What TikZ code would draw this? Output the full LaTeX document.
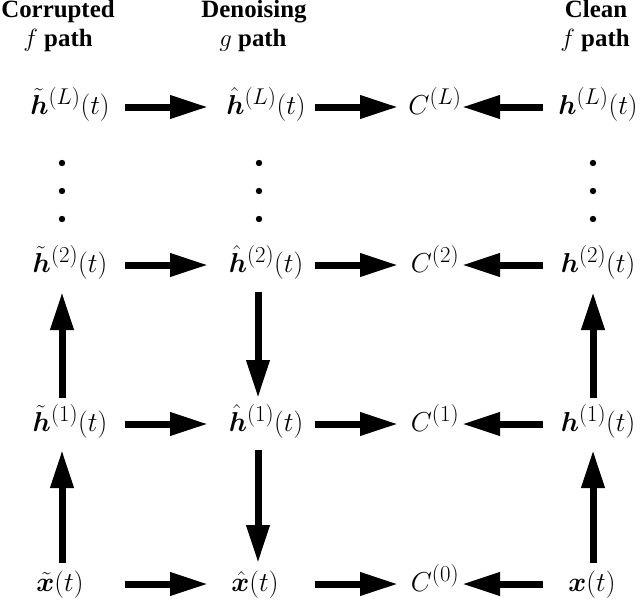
\documentclass[tikz,border=0pt]{standalone}
\usepackage{bm}
\usepackage{fontspec}
\setmainfont{Liberation Serif}
\usetikzlibrary{arrows.meta}
\tikzset{
  lbl/.style={anchor=base, inner sep=0pt, font=\Huge, scale=1.1},
  hdr/.style={anchor=base, inner sep=0pt, font=\Huge\bfseries},
  arr/.style={line width=7pt, -{Triangle[length=38pt,width=22pt]}},
}
\begin{document}
\begin{tikzpicture}[x=1pt,y=-1pt]
\useasboundingbox (0,0) rectangle (640,602);
% headers
\node[hdr] (hc1) at (58,18) {Corrupted};
\node[hdr] (hf1) at (58,47) {$f$ path};
\node[hdr] (hc2) at (254,18) {Denoising};
\node[hdr] (hf2) at (253,47) {$g$ path};
\node[hdr] (hc4) at (596,18) {Clean};
\node[hdr] (hf4) at (595,47) {$f$ path};
% row L
\node[lbl] (aL) at (70,114) {$\tilde{\bm h}^{(L)}(t)$};
\node[lbl] (bL) at (266,114) {$\hat{\bm h}^{(L)}(t)$};
\node[lbl] (cL) at (435,114) {$C^{(L)}$};
\node[lbl] (dL) at (598,114) {$\bm h^{(L)}(t)$};
% row 2
\node[lbl] (a2) at (70,272) {$\tilde{\bm h}^{(2)}(t)$};
\node[lbl] (b2) at (266,272) {$\hat{\bm h}^{(2)}(t)$};
\node[lbl] (c2) at (435,272) {$C^{(2)}$};
\node[lbl] (d2) at (598,272) {$\bm h^{(2)}(t)$};
% row 1
\node[lbl] (a1) at (70,431) {$\tilde{\bm h}^{(1)}(t)$};
\node[lbl] (b1) at (266,431) {$\hat{\bm h}^{(1)}(t)$};
\node[lbl] (c1) at (435,431) {$C^{(1)}$};
\node[lbl] (d1) at (598,431) {$\bm h^{(1)}(t)$};
% row 0
\node[lbl] (a0) at (60,591) {$\tilde{\bm x}(t)$};
\node[lbl] (b0) at (255,591) {$\hat{\bm x}(t)$};
\node[lbl] (c0) at (435,591) {$C^{(0)}$};
\node[lbl] (d0) at (592,591) {$\bm x(t)$};
% dots
\foreach \x in {62,259,593}{
  \foreach \y in {163,191,219}{
    \fill (\x,\y) circle (3.2pt);
  }
}
% horizontal arrows, h rows
\foreach \r in {L,2,1}{
  \draw[arr, shorten <=55pt, shorten >=58pt] ([yshift=7pt]a\r.base) -- ([yshift=7pt]b\r.base);
  \draw[arr, shorten <=49pt, shorten >=37pt] ([yshift=7pt]b\r.base) -- ([yshift=7pt]c\r.base);
  \draw[arr, shorten <=55pt, shorten >=27pt] ([yshift=7pt]d\r.base) -- ([yshift=7pt]c\r.base);
}
% row 0
\draw[arr, shorten <=65pt, shorten >=47pt] ([yshift=7pt]a0.base) -- ([yshift=7pt]b0.base);
\draw[arr, shorten <=60pt, shorten >=37pt] ([yshift=7pt]b0.base) -- ([yshift=7pt]c0.base);
\draw[arr, shorten <=49pt, shorten >=27pt] ([yshift=7pt]d0.base) -- ([yshift=7pt]c0.base);
% vertical arrows
\draw[arr] ([xshift=2pt,yshift=28pt]a0.base) -- ([xshift=-8pt,yshift=-19pt]a1.base);
\draw[arr] ([xshift=-8pt,yshift=33pt]a1.base) -- ([xshift=-8pt,yshift=-20pt]a2.base);
\draw[arr] ([xshift=-8pt,yshift=-20pt]b2.base) -- ([xshift=-8pt,yshift=33pt]b1.base);
\draw[arr] ([xshift=-8pt,yshift=-19pt]b1.base) -- ([xshift=3pt,yshift=28pt]b0.base);
\draw[arr] ([xshift=1pt,yshift=28pt]d0.base) -- ([xshift=-5pt,yshift=-19pt]d1.base);
\draw[arr] ([xshift=-5pt,yshift=33pt]d1.base) -- ([xshift=-5pt,yshift=-20pt]d2.base);
\end{tikzpicture}
\end{document}
